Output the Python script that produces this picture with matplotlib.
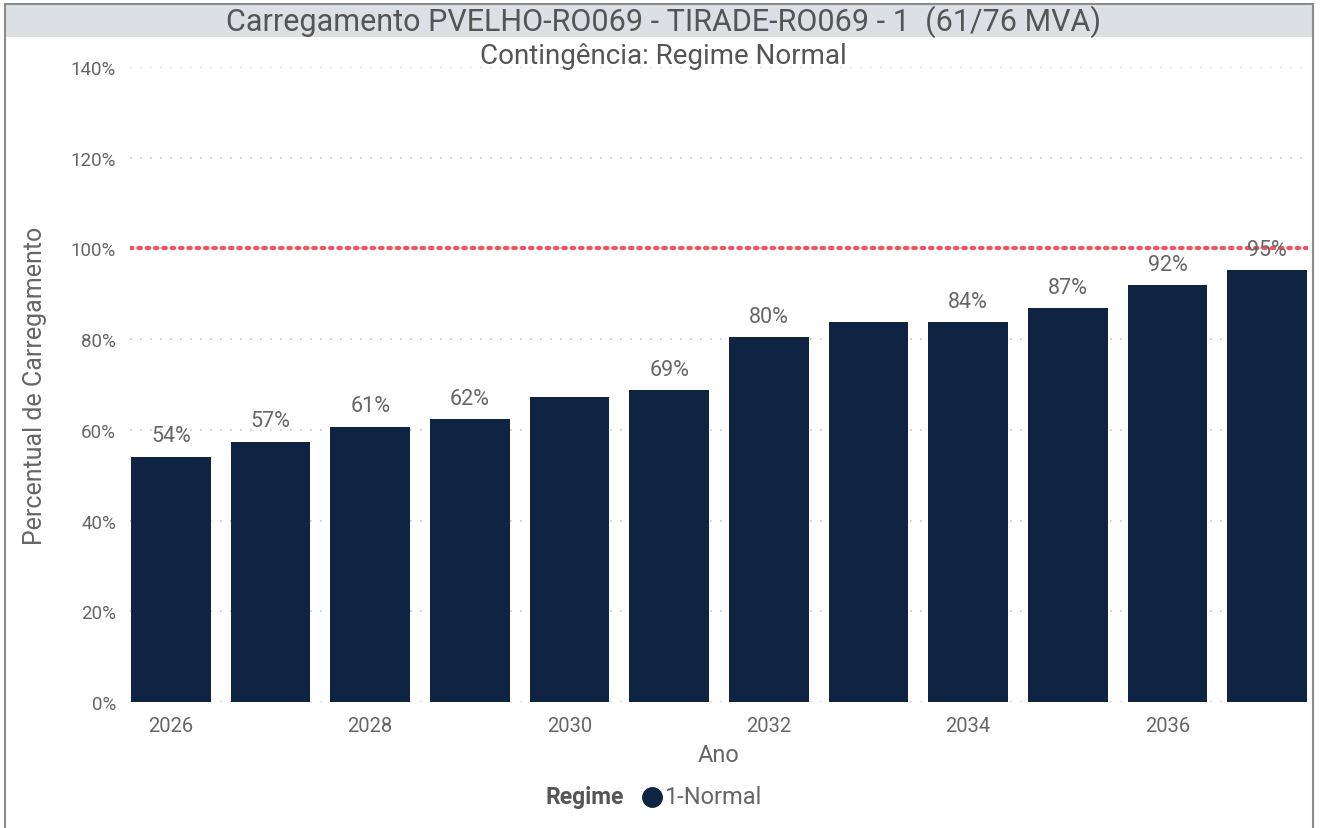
import numpy as np
import matplotlib.pyplot as plt
from matplotlib.patches import Rectangle
from matplotlib.lines import Line2D

anos = [2026, 2027, 2028, 2029, 2030, 2031, 2032, 2033, 2034, 2035, 2036, 2037]
carregamento = [54.1, 57.4, 60.7, 62.4, 67.3, 68.8, 80.4, 83.7, 83.7, 86.8, 91.9, 95.2]
mostrar_rotulo = [True, True, True, True, False, True, True, False, True, True, True, True]
xticks = [2026, 2028, 2030, 2032, 2034, 2036]
yticks = [0, 20, 40, 60, 80, 100, 120, 140]
limite = 100

plt.rcParams['font.family'] = ['Roboto', 'DejaVu Sans']
cinza = '#666666'
azul = '#0f2342'

fig = plt.figure(figsize=(13.26, 8.29), dpi=100)
W, H = 1326, 829

# moldura e faixa do titulo
fig.patches.append(Rectangle((5 / W, 1 - 38 / H), 1308 / W, 33 / H, transform=fig.transFigure,
                             facecolor='#dcdfe3', edgecolor='none', zorder=0))
fig.patches.append(Rectangle((5 / W, -0.01), 1308 / W, 1 - 5 / H + 0.01, transform=fig.transFigure,
                             facecolor='none', edgecolor='#8a8a8a', lw=1.5, zorder=1))
fig.text(0.5, 1 - 22 / H, 'Carregamento PVELHO-RO069 - TIRADE-RO069 - 1  (61/76 MVA)',
         ha='center', va='center', fontsize=22, color='#555555')
fig.text(0.5, 1 - 57 / H, 'Contingência: Regime Normal',
         ha='center', va='center', fontsize=20, color='#555555')

ax = fig.add_axes([130 / W, 1 - 703 / H, 1178 / W, 635 / H])
ax.bar(anos, carregamento, width=0.8, color=azul, zorder=2)
for a, v, m in zip(anos, carregamento, mostrar_rotulo):
    if m:
        ax.text(a, v + 2.3, '%d%%' % round(v), ha='center', va='bottom', fontsize=15.5, color=cinza, zorder=4)

ax.axhline(limite, color='#f2545f', lw=3, ls=(0, (0.6, 1.4)), dash_capstyle='round', zorder=3)
ax.set_ylim(0, 140)
ax.set_xlim(2025.59, 2037.41)
ax.set_yticks(yticks)
ax.set_yticklabels(['%d%%' % t for t in yticks])
ax.set_xticks(xticks)
ax.tick_params(length=0, labelsize=14.5, labelcolor=cinza, pad=10)
ax.tick_params(axis='y', labelsize=13.5)
ax.grid(axis='y', color='#c8c8c8', ls=(0, (1, 5)), lw=1.2, zorder=0)
for s in ax.spines.values():
    s.set_visible(False)
ax.set_xlabel('Ano', fontsize=17, color=cinza, labelpad=6)
ax.set_ylabel('Percentual de Carregamento', fontsize=18, color=cinza, labelpad=17)

# legenda
fig.text(585 / W, 1 - 798 / H, 'Regime', ha='center', va='center', fontsize=16.5,
         fontweight='bold', color='#555555')
fig.add_artist(Line2D([652 / W], [1 - 798 / H], marker='o', markersize=14, color=azul,
                      transform=fig.transFigure))
fig.text(664 / W, 1 - 798 / H, '1-Normal', ha='left', va='center', fontsize=17, color=cinza)

fig.savefig('out.png', dpi=100)
